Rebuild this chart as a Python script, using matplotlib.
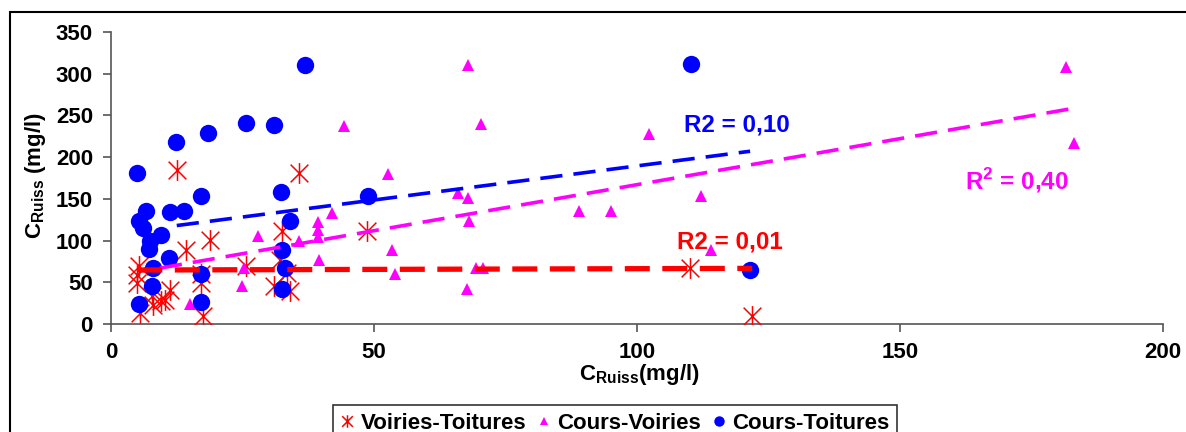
import numpy as np
import matplotlib
matplotlib.use("Agg")
import matplotlib.pyplot as plt
from matplotlib.patches import Rectangle
from matplotlib.path import Path

plt.rcParams["font.family"] = ["Liberation Sans", "DejaVu Sans"]
plt.rcParams["font.weight"] = "bold"
plt.rcParams["mathtext.fontset"] = "custom"
plt.rcParams["mathtext.rm"] = "Liberation Sans:bold"
plt.rcParams["mathtext.bf"] = "Liberation Sans:bold"
plt.rcParams["lines.scale_dashes"] = False

# Voiries-Toitures (red asterisks)
vt_x = [5.4, 5.0, 5.5, 5.0, 7.7, 8.0, 9.6, 10.3, 11.2, 12.5, 14.3, 18.8, 17.2,
        17.4, 25.7, 32.6, 32.1, 33.4, 30.9, 34.0, 35.8, 48.6, 110.0, 121.9, 17.2]
vt_y = [69, 49, 13, 59, 33, 23, 27, 29, 41, 185, 89, 101, 49,
        10, 70, 112, 77, 61, 45, 39, 181, 111, 67, 10, 60]

# Cours-Voiries (magenta triangles)
cv_x = [181.5, 183.1, 67.8, 70.3, 52.6, 66.0, 67.8, 68.1, 53.5, 53.9, 69.3, 70.8,
        67.7, 89.0, 95.0, 102.3, 112.1, 114.0, 44.3, 42.1, 39.4, 39.4, 39.4, 39.5,
        35.8, 27.9, 25.3, 24.9, 15.1]
cv_y = [308, 217, 310, 240, 180, 157, 151, 123, 89, 60, 67, 67,
        42, 135, 135, 228, 153, 89, 237, 133, 122, 113, 104, 77,
        100, 105, 67, 45, 24]

# Cours-Toitures (blue circles)
ct_x = [5.0, 6.7, 5.4, 6.1, 7.4, 9.6, 7.3, 11.2, 13.9, 12.3, 18.4, 25.7, 31.0,
        36.9, 32.3, 17.2, 34.0, 32.6, 33.1, 32.6, 17.2, 7.7, 5.4, 17.2, 48.8,
        8.0, 11.1, 110.3, 121.5]
ct_y = [181, 136, 123, 115, 99, 107, 90, 134, 136, 218, 229, 241, 239,
        310, 158, 153, 123, 89, 67, 42, 60, 46, 24, 26, 154,
        67, 79, 312, 65]

# linear trend lines: (x start, x end, slope, intercept)
trend_vt = (5.0, 121.9, 0.017, 64.6)
trend_cv = (9.3, 183.0, 1.103, 56.7)
trend_ct = (12.5, 121.5, 0.817, 107.8)

# Excel-like asterisk: vertical bar plus an X
star = Path([(0, -1), (0, 1), (-0.85, -0.85), (0.85, 0.85), (-0.85, 0.85), (0.85, -0.85)],
            [Path.MOVETO, Path.LINETO, Path.MOVETO, Path.LINETO, Path.MOVETO, Path.LINETO])

fig = plt.figure(figsize=(11.86, 4.32), dpi=100)
ax = fig.add_axes([111 / 1186, 1 - 324 / 432, 1052 / 1186, 292 / 432])

ax.plot(vt_x, vt_y, linestyle="none", marker=star, markersize=15,
        markeredgecolor="red", markeredgewidth=1.1, color="red",
        label="Voiries-Toitures", zorder=3)
ax.plot(cv_x, cv_y, linestyle="none", marker="^", markersize=9,
        color="#ff00ff", markeredgewidth=0, label="Cours-Voiries", zorder=3)
ax.plot(ct_x, ct_y, linestyle="none", marker="o", markersize=12.5,
        color="#0000ff", markeredgewidth=0, label="Cours-Toitures", zorder=3)

for (x0, x1, a, b), c in [(trend_ct, "#0000ff"), (trend_cv, "#ff00ff"),
                          (trend_vt, "red")]:
    xs = np.array([x0, x1])
    if c == "red":
        ax.plot(xs, a * xs + b, color=c, linewidth=3.8, dashes=(18, 9), zorder=4)
    else:
        ax.plot(xs, a * xs + b, color=c, linewidth=2.6, dashes=(16, 8), zorder=4)

ax.text(108.9, 239, "R2 = 0,10", color="#0000ff", fontsize=17.5,
        fontweight="bold", va="center")
ax.text(107.6, 98, "R2 = 0,01", color="red", fontsize=17.5,
        fontweight="bold", va="center")
ax.text(162.4, 172, r"R$^{\mathregular{2}}$ = 0,40", color="#ff00ff",
        fontsize=17.5, fontweight="bold", va="center")

ax.set_xlim(0, 200)
ax.set_ylim(0, 350)
ax.set_xticks(np.arange(0, 201, 50))
ax.set_yticks(np.arange(0, 351, 50))
ax.tick_params(direction="out", length=6, width=1.2, color="#555555",
               labelsize=16, pad=7)
for lab in ax.get_xticklabels() + ax.get_yticklabels():
    lab.set_fontweight("bold")
for s in ["top", "right"]:
    ax.spines[s].set_visible(False)
for s in ["left", "bottom"]:
    ax.spines[s].set_color("#555555")
    ax.spines[s].set_linewidth(1.2)

ax.set_xlabel(r"C$_{\mathregular{Ruiss}}$(mg/l)", fontsize=16,
              fontweight="bold")
ax.xaxis.set_label_coords(0.502, -0.13)
ax.set_ylabel(r"C$_{\mathregular{Ruiss}}$ (mg/l)", fontsize=16,
              fontweight="bold")
ax.yaxis.set_label_coords(-0.06, 0.51)

leg = fig.legend(loc="upper center", bbox_to_anchor=(615 / 1186, 1 - 394 / 432),
                 ncol=3, fontsize=16, frameon=True, fancybox=False,
                 markerscale=0.6, handlelength=0.6, handletextpad=0.3,
                 columnspacing=0.5, borderpad=0.35)
leg.get_frame().set_edgecolor("black")
leg.get_frame().set_linewidth(1.2)
for t in leg.get_texts():
    t.set_fontweight("bold")

fig.add_artist(Rectangle((10 / 1186, -0.1), 1.2, 1 - 12 / 432 + 0.1,
                         transform=fig.transFigure, fill=False,
                         edgecolor="black", linewidth=1.5))

fig.savefig("out.png", dpi=100)
